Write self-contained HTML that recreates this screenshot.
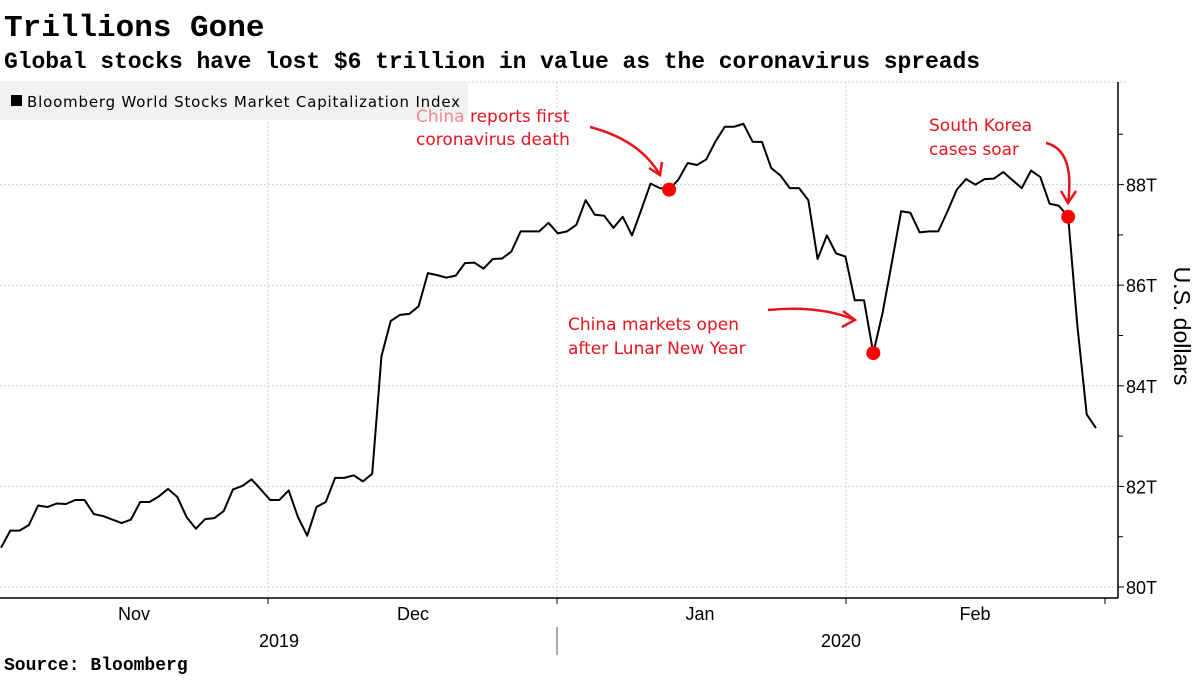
<!DOCTYPE html>
<html><head><meta charset="utf-8"><style>
body{margin:0;background:#fff;width:1200px;height:675px;overflow:hidden}
svg text{font-family:"Liberation Sans",sans-serif}
.mono{font-family:"Liberation Mono",monospace;font-weight:bold}
.dv{font-family:"DejaVu Sans",sans-serif}
</style></head><body>
<svg id="chart" width="1200" height="675" viewBox="0 0 1200 675">
<text class="mono" x="4" y="36" font-size="31" fill="#000">Trillions Gone</text>
<text class="mono" x="4" y="68" font-size="23" fill="#000" textLength="976">Global stocks have lost $6 trillion in value as the coronavirus spreads</text>
<g id="grid"></g>
<rect x="0" y="82" width="468" height="38" fill="#f2f2f2"/>
<rect x="11" y="95" width="11" height="11" fill="#000"/>
<text class="dv" x="27" y="107" font-size="15" fill="#000" textLength="433">Bloomberg World Stocks Market Capitalization Index</text>
<g id="marks"></g>
<g id="axes"></g>
<text x="1174" y="326" font-size="23" fill="#000" transform="rotate(90 1174 326)" text-anchor="middle">U.S. dollars</text>
<g fill="#e8141c" font-size="17" class="dv">
<text class="dv" x="416" y="122"><tspan fill="#f08a8f">China</tspan> reports first</text>
<text class="dv" x="416" y="145">coronavirus death</text>
<text class="dv" x="929" y="131">South Korea</text>
<text class="dv" x="929" y="155">cases soar</text>
<text class="dv" x="568" y="330">China markets open</text>
<text class="dv" x="568" y="354">after Lunar New Year</text>
</g>
<g fill="none" stroke="#e8141c" stroke-width="2.5">
<path d="M590 127 Q640 140 660 175 M649 168 L660 175 L662 162"/>
<path d="M1046 143 Q1075 150 1068 203 M1061 191 L1068 203 L1076 191"/>
<path d="M768 310 Q820 305 855 320 M843 311 L855 320 L842 327"/>
</g>
<text class="mono" x="4" y="670" font-size="18" fill="#000">Source: Bloomberg</text>
</svg>
<script>
const values=[80.78,81.12,81.12,81.23,81.62,81.59,81.66,81.65,81.73,81.73,81.45,81.41,81.34,81.27,81.34,81.69,81.69,81.80,81.95,81.79,81.39,81.16,81.35,81.37,81.51,81.94,82.01,82.14,81.94,81.73,81.73,81.92,81.39,81.02,81.59,81.69,82.17,82.17,82.22,82.10,82.25,84.59,85.29,85.41,85.43,85.58,86.24,86.20,86.15,86.19,86.44,86.45,86.33,86.52,86.53,86.67,87.07,87.07,87.07,87.24,87.03,87.07,87.20,87.69,87.40,87.38,87.14,87.36,86.99,87.50,88.02,87.93,87.90,88.10,88.43,88.39,88.50,88.86,89.15,89.15,89.21,88.85,88.85,88.33,88.18,87.93,87.93,87.69,86.52,86.99,86.63,86.57,85.70,85.70,84.65,85.45,86.45,87.47,87.44,87.05,87.07,87.07,87.47,87.90,88.11,88.00,88.11,88.12,88.25,88.09,87.93,88.28,88.15,87.62,87.58,87.36,85.18,83.43,83.16];
const eventIdx=[72,94,115];
const yTicks=[80,82,84,86,88];
const yTickLabels=["80T","82T","84T","86T","88T"];
const months=["Nov","Dec","Jan","Feb"];
const monthCenters=[134,413,700,975];
const years=["2019","2020"];
const NS="http://www.w3.org/2000/svg";
const X=i=>1+i*(1095/(values.length-1));
const Y=v=>587-(v-80)*50.3;
function mk(tag,attrs,parent){const e=document.createElementNS(NS,tag);for(const k in attrs)e.setAttribute(k,attrs[k]);parent.appendChild(e);return e;}
const grid=document.getElementById('grid'),marks=document.getElementById('marks'),axes=document.getElementById('axes');
yTicks.forEach((t,i)=>{
 const l=mk('line',{x1:0,x2:1118,y1:Y(t),y2:Y(t),stroke:'#cfcfcf','stroke-dasharray':'2,2'},grid);
 
 
 const tk=mk('line',{x1:1118,x2:1124,y1:Y(t),y2:Y(t),stroke:'#000'},axes);
 
 
 const tx=mk('text',{x:1126,y:Y(t)+7,'font-size':18,fill:'#000'},axes);
 tx.textContent=yTickLabels[i];
 
 
});
[81,83,85,87,89].forEach(t=>{
 const tk=mk('line',{x1:1118,x2:1123,y1:Y(t),y2:Y(t),stroke:'#000'},axes);
 
 
});
[268,557,846].forEach(x=>{
 const l=mk('line',{x1:x,x2:x,y1:82,y2:598,stroke:'#cfcfcf','stroke-dasharray':'2,2'},grid);
 
 
});
const hx=mk('line',{x1:0,x2:1128,y1:82,y2:82,stroke:'#cfcfcf','stroke-dasharray':'2,2'},grid);


const ya=mk('line',{x1:1118,x2:1118,y1:82,y2:598,stroke:'#000','stroke-width':1.5},axes);


const xa=mk('line',{x1:0,x2:1118,y1:598,y2:598,stroke:'#000','stroke-width':1.5},axes);


[268,557,846,1105].forEach(x=>{
 const tk=mk('line',{x1:x,x2:x,y1:598,y2:604,stroke:'#000'},axes);
 
 
});
months.forEach((m,i)=>{
 const t=mk('text',{x:monthCenters[i],y:620,'font-size':18,'text-anchor':'middle',fill:'#000'},axes);
 t.textContent=m;
 
 
});
[279,841].forEach((x,i)=>{
 const t=mk('text',{x:x,y:647,'font-size':18,'text-anchor':'middle',fill:'#000'},axes);
 t.textContent=years[i];
 
 
});
const sep=mk('line',{x1:557,x2:557,y1:627,y2:655,stroke:'#555'},axes);


const pl=mk('polyline',{points:values.map((v,i)=>X(i)+','+Y(v)).join(' '),fill:'none',stroke:'#000','stroke-width':2,'stroke-linejoin':'round'},marks);


eventIdx.forEach(i=>{
 const c=mk('circle',{cx:X(i),cy:Y(values[i]),r:7,fill:'#ff0000'},marks);
 
 
});
</script>
</body></html>
